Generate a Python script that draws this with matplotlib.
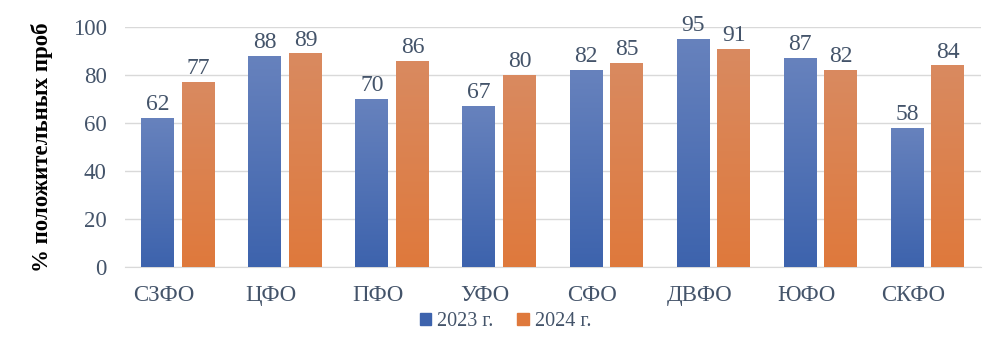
import matplotlib
matplotlib.use('Agg')
import matplotlib.pyplot as plt
import matplotlib.transforms as mtransforms
import numpy as np
from matplotlib.colors import LinearSegmentedColormap
from matplotlib.patches import Patch

categories = ['СЗФО', 'ЦФО', 'ПФО', 'УФО', 'СФО', 'ДВФО', 'ЮФО', 'СКФО']
values_2023 = [62, 88, 70, 67, 82, 95, 87, 58]
values_2024 = [77, 89, 86, 80, 85, 91, 82, 84]
series_labels = ['2023 г.', '2024 г.']
y_ticks = [0, 20, 40, 60, 80, 100]

text_color = '#44546a'
blue_top, blue_bottom = '#6782bd', '#3d63ad'
orange_top, orange_bottom = '#d98a60', '#df793c'

plt.rcParams['font.family'] = ['Liberation Serif', 'DejaVu Serif']

fig = plt.figure(figsize=(9.97, 3.51), dpi=100)
ax = fig.add_axes([0.125, 0.239, 0.859, 0.684])

x = np.arange(len(categories))
width = 0.308
offset = 0.19

bars_a = ax.bar(x - offset, values_2023, width, color=blue_bottom, zorder=2)
bars_b = ax.bar(x + offset, values_2024, width, color=orange_bottom, zorder=2)


def gradient_fill(bars, top, bottom):
    cmap = LinearSegmentedColormap.from_list('g', [bottom, top])
    grad = np.linspace(0, 1, 256).reshape(-1, 1)
    for bar in bars:
        x0, y0 = bar.get_x(), bar.get_y()
        w, h = bar.get_width(), bar.get_height()
        im = ax.imshow(grad, cmap=cmap, aspect='auto', origin='lower',
                       extent=[x0, x0 + w, y0, y0 + h], zorder=3)
        im.set_clip_path(bar)
        bar.set_facecolor('none')


gradient_fill(bars_a, blue_top, blue_bottom)
gradient_fill(bars_b, orange_top, orange_bottom)

for bars in (bars_a, bars_b):
    for bar in bars:
        ax.annotate('%d' % bar.get_height(),
                    (bar.get_x() + bar.get_width() / 2, bar.get_height()),
                    xytext=(0, 2), textcoords='offset points',
                    ha='center', va='bottom', fontsize=17, color=text_color, zorder=4)

ax.set_xlim(-0.5, len(categories) - 0.5)
ax.set_ylim(0, 100)
ax.set_yticks(y_ticks)
ax.set_xticks(x)
ax.set_xticklabels(categories)
ax.tick_params(axis='both', length=0, labelsize=16.5, colors=text_color)
ax.tick_params(axis='x', pad=13)
ax.tick_params(axis='y', pad=13)

# category labels in the source sit a bit left of their bar pairs
shift = mtransforms.ScaledTranslation(-0.14, 0, fig.dpi_scale_trans)
for label in ax.get_xticklabels():
    label.set_transform(label.get_transform() + shift)

ax.yaxis.grid(True, color='#d9d9d9', linewidth=1, zorder=0)
ax.set_axisbelow(True)
for spine_name in ['left', 'top', 'right']:
    ax.spines[spine_name].set_visible(False)
ax.spines['bottom'].set_color('#d9d9d9')

ax.set_ylabel('% положительных проб', fontsize=16.5, fontweight='bold', color='black')
ax.yaxis.set_label_coords(-0.084, 0.5)

handles = [Patch(color=blue_bottom), Patch(color=orange_bottom)]
fig.legend(handles, series_labels, loc='center', bbox_to_anchor=(0.507, 0.083), ncol=2,
           frameon=False, fontsize=14.5, labelcolor=text_color,
           handlelength=0.55, handleheight=0.55, handletextpad=0.3, columnspacing=1.2)

plt.savefig('out.png')
plt.close()
